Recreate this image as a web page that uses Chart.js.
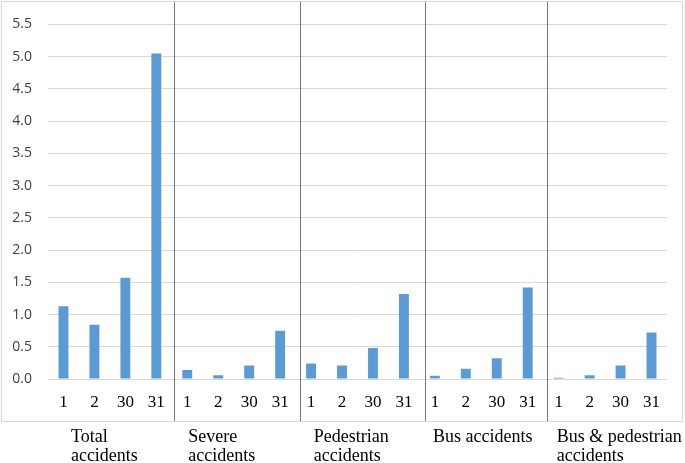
<!DOCTYPE html>
<html>
<head>
<meta charset="utf-8">
<script src="https://cdn.jsdelivr.net/npm/chart.js@4/dist/chart.umd.min.js"></script>
<style>
  html, body { margin: 0; padding: 0; background: #ffffff; }
  #wrap { width: 685px; height: 463px; position: relative; }
</style>
</head>
<body>
<div id="wrap"><canvas id="c" width="685" height="463"></canvas></div>
<script>
// ---- Data ----
const dayLabels = ["1", "2", "30", "31"];
const groupNames = [
  ["Total", "accidents"],
  ["Severe", "accidents"],
  ["Pedestrian", "accidents"],
  ["Bus accidents"],
  ["Bus & pedestrian", "accidents"]
];
const totalAccidents = [1.13, 0.84, 1.57, 5.05];
const severeAccidents = [0.14, 0.06, 0.21, 0.75];
const pedestrianAccidents = [0.24, 0.21, 0.48, 1.32];
const busAccidents = [0.05, 0.16, 0.32, 1.42];
const busPedestrianAccidents = [0.02, 0.06, 0.21, 0.72];
const yTickValues = [0, 0.5, 1, 1.5, 2, 2.5, 3, 3.5, 4, 4.5, 5, 5.5];

const seriesGroups = [totalAccidents, severeAccidents, pedestrianAccidents, busAccidents, busPedestrianAccidents];
const labels = [];
const values = [];
seriesGroups.forEach(g => { g.forEach((v, i) => { labels.push(dayLabels[i]); values.push(v); }); });

// Separator and group label placement (in category units)
const separatorAt = [3.57, 7.64, 11.68, 15.62];
const groupLabelAt = [0.24, 4.03, 8.09, 11.94, 15.94];

const framePlugin = {
  id: 'framePlugin',
  afterDraw(chart) {
    const ctx = chart.ctx;
    const x = chart.scales.x;
    ctx.save();
    // outer frame
    ctx.strokeStyle = '#d9d9d9';
    ctx.lineWidth = 1;
    ctx.strokeRect(1.5, 1.5, 681, 420);
    // group separators
    ctx.strokeStyle = '#767676';
    separatorAt.forEach(s => {
      const px = Math.round(x.getPixelForValue(s)) + 0.5;
      ctx.beginPath();
      ctx.moveTo(px, 2);
      ctx.lineTo(px, 421);
      ctx.stroke();
    });
    // group labels
    ctx.fillStyle = '#000000';
    ctx.font = '18px "Liberation Serif", "Times New Roman", serif';
    ctx.textAlign = 'left';
    ctx.textBaseline = 'alphabetic';
    groupNames.forEach((lines, gi) => {
      const px = x.getPixelForValue(groupLabelAt[gi]);
      lines.forEach((ln, li) => {
        ctx.fillText(ln, px, chart.chartArea.bottom + 63 + li * 18.5);
      });
    });
    ctx.restore();
  }
};

new Chart(document.getElementById('c'), {
  type: 'bar',
  data: {
    labels: labels,
    datasets: [{
      data: values,
      backgroundColor: '#5b9bd5',
      borderWidth: 0,
      categoryPercentage: 1.0,
      barPercentage: 0.32
    }]
  },
  options: {
    responsive: false,
    animation: false,
    devicePixelRatio: 1,
    layout: { padding: { left: 0, right: 18, top: 18, bottom: 0 } },
    plugins: { legend: { display: false }, tooltip: { enabled: false } },
    scales: {
      x: {
        grid: { display: false, drawTicks: false },
        border: { display: false },
        ticks: {
          color: '#000000',
          padding: 13,
          maxRotation: 0,
          autoSkip: false,
          font: { family: '"Liberation Serif", "Times New Roman", serif', size: 17 }
        },
        afterFit(scale) { scale.height = 84; }
      },
      y: {
        min: 0,
        max: 5.5,
        afterBuildTicks(scale) { scale.ticks = yTickValues.map(v => ({ value: v })); },
        grid: { color: '#d9d9d9', lineWidth: 1, drawTicks: false },
        border: { display: false },
        ticks: {
          color: '#404040',
          padding: 16,
          font: { family: '"Open Sans", "Liberation Sans", sans-serif', size: 14 },
          callback: v => Number(v).toFixed(1)
        },
        afterFit(scale) { scale.width = 48; }
      }
    }
  },
  plugins: [framePlugin]
});
</script>
</body>
</html>
